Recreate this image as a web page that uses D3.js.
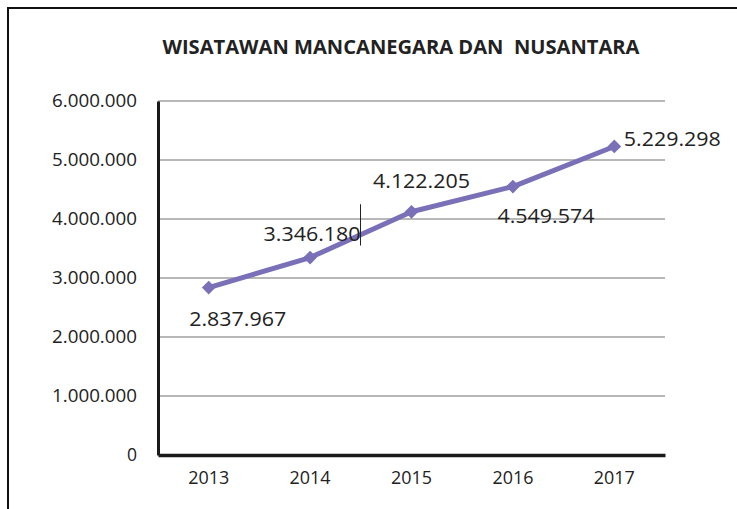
<!DOCTYPE html>
<html><head><meta charset="utf-8">
<script src="https://cdn.jsdelivr.net/npm/d3@7/dist/d3.min.js"></script>
<style>body{margin:0;background:#fff}</style>
</head><body><svg id="c" width="737" height="509"></svg>
<script>
const years = ["2013","2014","2015","2016","2017"];
const visitors = [2837967, 3346180, 4122205, 4549574, 5229298];
const yTicks = [0,1000000,2000000,3000000,4000000,5000000,6000000];
const labelText = ["2.837.967","3.346.180","4.122.205","4.549.574","5.229.298"];
const title = "WISATAWAN MANCANEGARA DAN  NUSANTARA";

const svg = d3.select("#c");
const L=158,R=665,T=101,B=455;
const x = d3.scaleBand().domain(years).range([L,R]);
const y = d3.scaleLinear().domain([0,6000000]).range([B,T]);
const fmt = v => v===0 ? "0" : d3.format(",")(v).replace(/,/g,".");
const font = "'Open Sans', sans-serif";

svg.append("rect").attr("x",8).attr("y",8).attr("width",760).attr("height",560)
  .attr("fill","none").attr("stroke","#111").attr("stroke-width",2);

svg.append("text").attr("x",401).attr("y",54).attr("text-anchor","middle")
  .attr("font-family",font).attr("font-weight","bold").attr("font-size",19)
  .attr("fill","#222").attr("textLength",477).attr("lengthAdjust","spacingAndGlyphs")
  .style("white-space","pre").text(title);

// gridlines
svg.append("g").selectAll("line").data(yTicks.filter(d=>d>0)).join("line")
  .attr("x1",L).attr("x2",R).attr("y1",d=>y(d)).attr("y2",d=>y(d))
  .attr("stroke","#a0a0a0").attr("stroke-width",1.5);

// y axis
const ya = svg.append("g").attr("transform",`translate(${L},0)`)
  .call(d3.axisLeft(y).tickValues(yTicks).tickFormat(fmt).tickSize(0).tickPadding(21));
ya.select(".domain").attr("stroke","#1a1a1a").attr("stroke-width",3);
ya.selectAll("text").attr("font-family",font).attr("font-size",17.5).attr("fill","#222")
  .attr("textLength",d=>d===0?null:85).attr("lengthAdjust","spacingAndGlyphs");

// x axis
const xa = svg.append("g").attr("transform",`translate(0,${B})`)
  .call(d3.axisBottom(x).tickSize(0).tickPadding(17));
xa.select(".domain").attr("stroke","#1a1a1a").attr("stroke-width",3.5);
xa.selectAll("text").attr("font-family",font).attr("font-size",17.5).attr("fill","#222")
  .attr("textLength",41).attr("lengthAdjust","spacingAndGlyphs");

const cx = d => x(d)+x.bandwidth()/2;
const pts = years.map((d,i)=>[cx(d), y(visitors[i])]);
svg.append("path").attr("d",d3.line()(pts)).attr("fill","none")
  .attr("stroke","#7a70b8").attr("stroke-width",5).attr("stroke-linejoin","round");
svg.append("g").selectAll("path").data(pts).join("path")
  .attr("transform",d=>`translate(${d[0]},${d[1]})`)
  .attr("d",d3.symbol(d3.symbolDiamond2 || d3.symbolDiamond,120)())
  .attr("fill","#7a70b8");

// data labels
const offs = [[29,38],[2,-17],[10,-24],[33,36],[58,0]];
svg.append("g").selectAll("text").data(pts).join("text")
  .attr("x",(d,i)=>d[0]+offs[i][0]).attr("y",(d,i)=>d[1]+offs[i][1])
  .attr("text-anchor","middle").attr("font-family",font).attr("font-size",20.5)
  .attr("fill","#222").attr("textLength",97).attr("lengthAdjust","spacingAndGlyphs")
  .text((d,i)=>labelText[i]);

// cursor artifact
svg.append("line").attr("x1",360.5).attr("x2",360.5).attr("y1",y(4250000)).attr("y2",y(3550000))
  .attr("stroke","#222").attr("stroke-width",1);
</script></body></html>
